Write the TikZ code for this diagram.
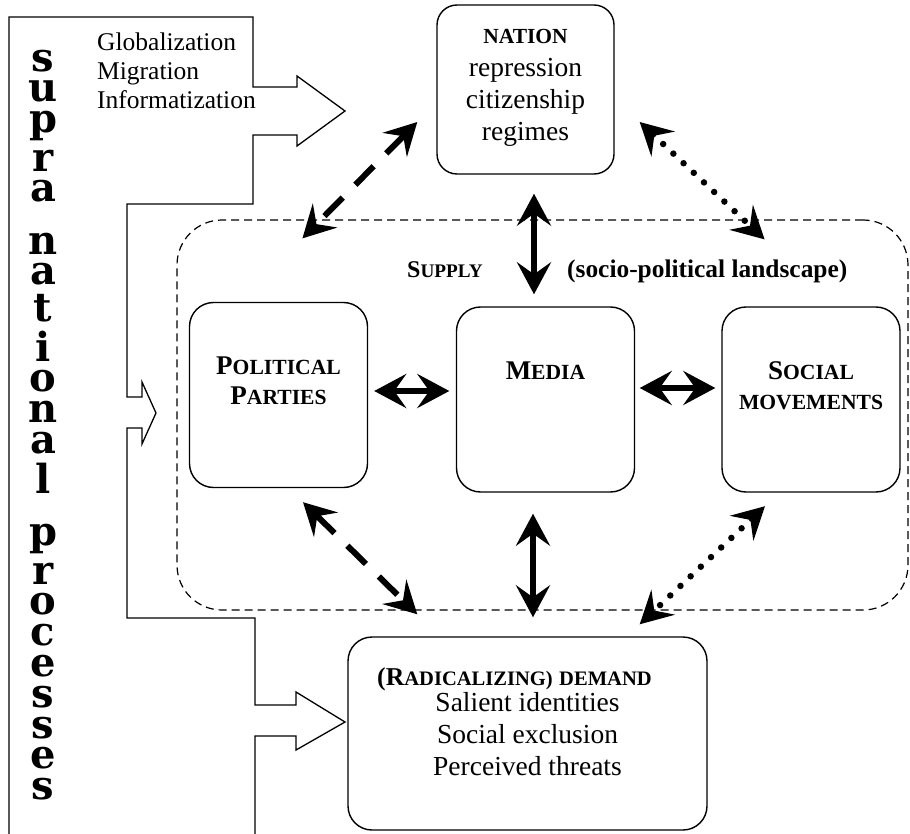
\documentclass[tikz,border=0pt]{standalone}
\usepackage{fontspec}
\setmainfont{Liberation Serif}
\newfontfamily\stackfont{DejaVu Serif}
\usetikzlibrary{positioning,calc,arrows.meta}

\makeatletter
\newcommand\fakesc[2]{#1{\fontsize{\fpeval{0.8*\f@size}}{\f@baselineskip}\selectfont #2}}
\makeatother
\newcommand\vl[1]{\hbox to 40pt{\hss #1\hss}}
\newcommand\vword[1]{\vbox{\baselineskip-1pt\lineskip9pt\lineskiplimit0pt #1}}

\begin{document}
\begin{tikzpicture}[x=1pt,y=-1pt,
	box/.style={draw, line width=1.4pt, rounded corners=24pt, minimum width=178pt, minimum height=185pt, inner sep=0pt},
	region/.style={draw, line width=1.2pt, dash pattern=on 8pt off 5pt, rounded corners=45pt, minimum width=731pt, minimum height=390pt},
	frame/.style={line width=1.3pt},
	both/.style={{Stealth[length=32pt,width=34pt,inset=12pt]}-{Stealth[length=32pt,width=34pt,inset=12pt]}, line width=6pt},
	dashboth/.style={both, dash pattern=on 26pt off 18pt},
	dotboth/.style={both, line width=6.5pt, line cap=round, dash pattern=on 0pt off 14pt},
	head/.style={font=\bfseries\fontsize{27}{30}\selectfont, align=center, inner sep=0pt},
	body/.style={font=\fontsize{27.5}{32}\selectfont, align=center, inner sep=0pt},
	letters/.style={font=\stackfont\bfseries\fontsize{40}{40}\selectfont, inner sep=0pt, anchor=north}]
\useasboundingbox (0,0) rectangle (910,834);

% outer frame with the three open arrows
\draw[frame] (9,834) -- (9,17) -- (253,17) -- (253,87) -- (297,87) -- (297,76) -- (345,111) -- (297,146) -- (297,135) -- (253,135) -- (253,204) -- (127,204)
	-- (127,397) -- (142,397) -- (142,382) -- (156,413) -- (142,444) -- (142,428) -- (127,428) -- (127,618) -- (255,618)
	-- (255,705) -- (296,705) -- (296,692) -- (345,722) -- (296,750) -- (296,736) -- (255,736) -- (255,834);

\node[letters] (supra) at (43,50) {\vword{\vl{s}\vl{u}\vl{p}\vl{r}\vl{a}}};
\node[letters] (national) at (43,233) {\vword{\vl{n}\vl{a}\vl{t}\vl{i}\vl{o}\vl{n}\vl{a}\vl{l}}};
\node[letters] (processes) at (43,524) {\vword{\vl{p}\vl{r}\vl{o}\vl{c}\vl{e}\vl{s}\vl{s}\vl{e}\vl{s}}};

\node[anchor=north west, align=left, inner sep=0pt, font=\fontsize{25.5}{29}\selectfont] (forces) at (97,33) {Globalization\\Migration\\Informatization};

% boxes
\node[region] (supply) at (542.5,415) {};
\node[box, minimum width=177pt, minimum height=169pt, rounded corners=20pt] (nation) at (525.5,89.5) {};
\node[box] (parties) at (278.5,395) {};
\node[box] (media) at (545.5,399.5) {};
\node[box] (social) at (811,399.5) {};
\node[box, minimum width=359pt, minimum height=193pt] (demand) at (527.5,733.5) {};

\node[body, below=25pt of nation.north] (nationtxt) {{\bfseries\fontsize{21.5}{32}\selectfont NATION}\\[1pt]repression\\citizenship\\regimes};
\node[head, below=55pt of parties.north] (partiestxt) {\fakesc{P}{OLITICAL}\\\fakesc{P}{ARTIES}};
\node[head, below=55pt of media.north] (mediatxt) {\fakesc{M}{EDIA}};
\node[head, below=55pt of social.north] (socialtxt) {\fakesc{S}{OCIAL}\\\fakesc{}{MOVEMENTS}};
\node[anchor=base west, inner sep=0pt, font=\bfseries\fontsize{24}{28}\selectfont] (supplytxt) at (407,278) {\fakesc{S}{UPPLY}};
\node[anchor=base west, inner sep=0pt, font=\bfseries\fontsize{25.4}{28}\selectfont] (landscape) at (567,278) {(socio-political landscape)};
\node[body, below=31pt of demand.north] (demandtxt) {{\bfseries\fontsize{25.7}{32}\selectfont\fakesc{(R}{ADICALIZING)} \fakesc{}{DEMAND}\hspace*{26pt}}\\[-6pt]Salient identities\\Social exclusion\\Perceived threats};

% links
\draw[dashboth] ([shift={(-19,32.5)}]nation.west) -- ([shift={(126,19)}]supply.north west);
\draw[both] ([shift={(8.5,19)}]nation.south) -- ([shift={(-11.5,-12)}]media.north);
\draw[dotboth] ([shift={(25,32.5)}]nation.east) -- ([shift={(-144,20)}]supply.north east);
\draw[both] ([shift={(6,-4)}]parties.east) -- ([shift={(-6.5,-8.5)}]media.west);
\draw[both] ([shift={(4.5,-11.5)}]media.east) -- ([shift={(-6,-11.5)}]social.west);
\draw[dashboth] ([shift={(24.5,14)}]parties.south) -- ([shift={(70,-22)}]demand.north west);
\draw[both] ([shift={(-12.5,21)}]media.south) -- ([shift={(5.5,-19)}]demand.north);
\draw[dotboth] ([shift={(-46,13.5)}]social.south) -- ([shift={(-68,-12)}]demand.north east);
\end{tikzpicture}
\end{document}
